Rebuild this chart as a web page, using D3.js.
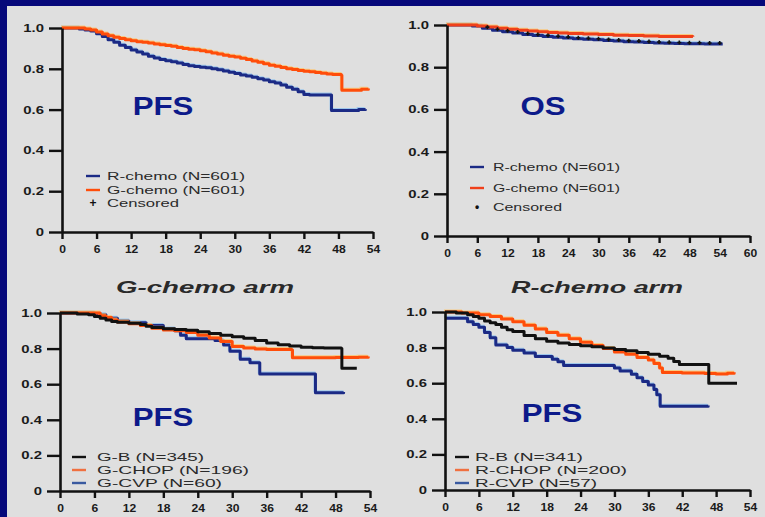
<!DOCTYPE html>
<html><head><meta charset="utf-8">
<script src="https://cdn.jsdelivr.net/npm/d3@7"></script>
<style>body{margin:0;background:#dfdfdf;overflow:hidden}</style>
</head><body>
<svg id="c" width="765" height="517"></svg>
<script>
// ---------- DATA ----------
const yTicks = [0, 0.2, 0.4, 0.6, 0.8, 1.0];
const yTickLabels = ["0", "0.2", "0.4", "0.6", "0.8", "1.0"];
const xTicks54 = [0, 6, 12, 18, 24, 30, 36, 42, 48, 54];
const xTicks60 = [0, 6, 12, 18, 24, 30, 36, 42, 48, 54, 60];

// Panel 1: PFS, R-chemo vs G-chemo
const pfsRchemo = [[0,1],[2,1],[3,0.995],[4,0.99],[5,0.985],[6,0.972],[7,0.958],[8,0.943],[9,0.93],[10,0.916],[11,0.904],[12,0.892],[13,0.882],[14,0.872],[15,0.862],[16,0.853],[17,0.845],[18,0.839],[19,0.834],[20,0.828],[21,0.821],[22,0.815],[23,0.811],[24,0.808],[25,0.805],[26,0.8],[27,0.795],[28,0.789],[29,0.783],[30,0.777],[31,0.77],[32,0.765],[33,0.758],[34,0.751],[35,0.745],[36,0.737],[37,0.73],[38,0.72],[39,0.71],[40,0.7],[41,0.688],[42,0.674],[43,0.671],[46.7,0.671],[46.8,0.595],[50,0.595],[51.5,0.6],[52.7,0.602]];
const pfsGchemo = [[0,1],[3,1],[4,0.995],[5,0.99],[6,0.98],[7,0.97],[8,0.962],[9,0.955],[10,0.948],[11,0.942],[12,0.937],[13,0.933],[14,0.93],[15,0.927],[16,0.922],[17,0.918],[18,0.914],[19,0.91],[20,0.905],[21,0.9],[22,0.896],[23,0.893],[24,0.889],[25,0.884],[26,0.878],[27,0.872],[28,0.867],[29,0.862],[30,0.858],[31,0.852],[32,0.845],[33,0.838],[34,0.832],[35,0.825],[36,0.818],[37,0.812],[38,0.806],[39,0.8],[40,0.797],[41,0.792],[42,0.788],[43,0.785],[44,0.782],[45,0.778],[46,0.775],[47,0.772],[48.5,0.768],[48.6,0.695],[51,0.695],[52,0.7],[53.2,0.703]];

// Panel 2: OS
const osRchemo = [[0,1],[3,1],[5,0.995],[7,0.985],[9,0.975],[11,0.968],[13,0.962],[15,0.955],[17,0.95],[19,0.946],[21,0.942],[23,0.938],[25,0.935],[27,0.932],[29,0.93],[31,0.927],[33,0.924],[35,0.921],[37,0.919],[39,0.917],[41,0.915],[43,0.913],[45,0.912],[47,0.911],[49,0.911],[51,0.91],[54.6,0.91]];
const osGchemo = [[0,1],[4,1],[6,0.995],[8,0.99],[10,0.985],[12,0.98],[14,0.975],[16,0.972],[18,0.968],[20,0.965],[22,0.962],[24,0.96],[27,0.957],[30,0.955],[33,0.952],[36,0.95],[39,0.948],[42,0.946],[45,0.945],[48.7,0.944]];
const osCensorR = [8,10,12,14,16,18,20,22,24,26,28,30,32,34,36,38,40,42,44,46,48,50,52,54];

// Panel 3: G-chemo arm PFS
const gB = [[0,1],[3,0.995],[5,0.99],[6,0.98],[7,0.97],[8,0.96],[9,0.952],[10,0.948],[12,0.942],[14,0.935],[15,0.925],[16,0.918],[18,0.912],[20,0.908],[22,0.903],[24,0.895],[26,0.885],[28,0.875],[30,0.866],[32,0.858],[34,0.846],[36,0.832],[38,0.822],[40,0.815],[42,0.808],[44,0.805],[46,0.803],[49,0.8],[49.1,0.69],[51.7,0.69]];
const gCHOP = [[0,1],[6,1],[7,0.985],[8,0.975],[9,0.96],[10,0.95],[12,0.94],[14,0.93],[16,0.915],[18,0.905],[20,0.9],[22,0.89],[24,0.875],[26,0.86],[28,0.84],[30,0.812],[32,0.803],[34,0.798],[36,0.795],[38,0.795],[40.4,0.792],[40.5,0.748],[44,0.748],[48,0.75],[52,0.752],[53.7,0.756]];
const gCVP = [[0,1],[6,0.99],[8,0.97],[10,0.955],[12,0.945],[15,0.93],[18,0.91],[20,0.9],[21,0.875],[22,0.855],[27,0.845],[28.5,0.82],[29.6,0.785],[31.4,0.74],[33.1,0.72],[34.8,0.658],[44.1,0.658],[44.5,0.552],[49.4,0.556]];

// Panel 4: R-chemo arm PFS
const rB = [[0,1],[2,0.995],[4,0.985],[5,0.975],[6,0.965],[7,0.95],[8,0.94],[9,0.93],[10,0.915],[11,0.9],[12,0.89],[14,0.868],[16,0.85],[18,0.835],[20,0.826],[22,0.818],[24,0.81],[26,0.805],[28,0.798],[30,0.79],[32,0.783],[34,0.773],[36,0.762],[38,0.752],[39.5,0.74],[40.5,0.722],[41.5,0.705],[46.6,0.705],[46.7,0.6],[51.7,0.6]];
const rCHOP = [[0,1],[3,0.995],[6,0.985],[8,0.975],[10,0.96],[12,0.945],[14,0.925],[16,0.905],[18,0.885],[20,0.87],[22,0.85],[24,0.83],[26,0.812],[28,0.795],[30,0.775],[32,0.762],[34,0.745],[36,0.73],[37,0.71],[38,0.685],[38.5,0.66],[42,0.658],[46,0.655],[48,0.652],[50,0.656],[51.2,0.662]];
const rCVP = [[0,0.965],[3,0.965],[4,0.945],[5,0.93],[6,0.915],[7,0.885],[8,0.855],[9,0.815],[11,0.8],[12,0.785],[14,0.77],[16,0.75],[19,0.735],[20,0.72],[21,0.7],[29,0.7],[30,0.685],[31,0.668],[33,0.65],[34,0.63],[35,0.61],[36,0.59],[37,0.565],[37.5,0.535],[38.1,0.47],[44,0.47],[46.6,0.475]];

const titles = ["G-chemo arm", "R-chemo arm"];

// ---------- STYLE ----------
const NAVY = "#1b2a85", ORANGE = "#ff4d0a", BLACK = "#111", LBLUE = "#8fc1ee", LYEL = "#ffc266";
const FONT = "'Liberation Sans', Arial, sans-serif";

const svg = d3.select("#c");
svg.append("rect").attr("width", 765).attr("height", 517).attr("fill", "#06087a");
svg.append("rect").attr("x", 7).attr("y", 6).attr("width", 758).attr("height", 511).attr("fill", "#dfdfdf");

function stretch(sel, k) {
  sel.each(function() {
    const L = this.getComputedTextLength();
    d3.select(this).attr("textLength", L * k).attr("lengthAdjust", "spacingAndGlyphs");
  });
}

const panels = [
  {x0:62, x1:373, yb:232, yt:28, xmax:54, xt:xTicks54,
   series:[{d:pfsRchemo,c:NAVY,h:LBLUE},{d:pfsGchemo,c:ORANGE,h:LYEL}],
   big:"PFS", bx:163, by:115,
   leg:{lx:86, tx:107, rows:[176,190,203], w:[138,138,72],
        items:[{t:"R-chemo (N=601)",c:NAVY},{t:"G-chemo (N=601)",c:ORANGE},{t:"Censored",m:"+"}]}},
  {x0:447, x1:750, yb:236, yt:25, xmax:60, xt:xTicks60,
   series:[{d:osRchemo,c:NAVY,h:LBLUE},{d:osGchemo,c:"#f0401a",h:LYEL}],
   censor:{t:osCensorR, d:osRchemo},
   big:"OS", bx:543, by:115,
   leg:{lx:470, tx:493, rows:[167,188,207], w:[127,127,69],
        items:[{t:"R-chemo (N=601)",c:NAVY},{t:"G-chemo (N=601)",c:"#f0401a"},{t:"Censored",m:"•"}]}},
  {x0:60, x1:370, yb:491, yt:313, xmax:54, xt:xTicks54,
   series:[{d:gCVP,c:NAVY,h:LBLUE},{d:gCHOP,c:ORANGE,h:LYEL},{d:gB,c:BLACK}],
   big:"PFS", bx:163, by:426, title:titles[0], tx:205, ty:293, tw:178,
   leg:{lx:72, tx:97, rows:[457,470,483], w:[107,152,125],
        items:[{t:"G-B (N=345)",c:BLACK},{t:"G-CHOP (N=196)",c:"#f07040"},{t:"G-CVP (N=60)",c:"#3a5aa0"}]}},
  {x0:445, x1:750, yb:490, yt:312, xmax:54, xt:xTicks54,
   series:[{d:rCVP,c:NAVY,h:LBLUE},{d:rCHOP,c:ORANGE,h:LYEL},{d:rB,c:BLACK}],
   big:"PFS", bx:552, by:422, title:titles[1], tx:597, ty:293, tw:172,
   leg:{lx:455, tx:475, rows:[457,470,483], w:[108,152,122],
        items:[{t:"R-B (N=341)",c:BLACK},{t:"R-CHOP (N=200)",c:"#f07040"},{t:"R-CVP (N=57)",c:"#3a5aa0"}]}}
];

panels.forEach(p => {
  const x = d3.scaleLinear().domain([0, p.xmax]).range([p.x0, p.x1]);
  const y = d3.scaleLinear().domain([0, 1]).range([p.yb, p.yt]);
  const g = svg.append("g");

  // curves
  const line = d3.line().x(d => x(d[0])).y(d => y(d[1])).curve(d3.curveStepAfter);
  p.series.forEach(s => {
    if (s.h) g.append("path").attr("d", line(s.d)).attr("fill", "none")
      .attr("stroke", s.h).attr("stroke-width", 2).attr("opacity", 0.8)
      .attr("transform", "translate(-1,-1.5)");
    g.append("path").attr("d", line(s.d)).attr("fill", "none")
      .attr("stroke", s.c).attr("stroke-width", 3).attr("stroke-linejoin", "round");
  });

  // censor marks
  if (p.censor) {
    const lookup = t => { let v = p.censor.d[0][1]; p.censor.d.forEach(d => { if (d[0] <= t) v = d[1]; }); return v; };
    g.selectAll(".cm").data(p.censor.t).join("path")
      .attr("d", t => `M${x(t)-2},${y(lookup(t))-1}h4M${x(t)},${y(lookup(t))-3}v4`)
      .attr("stroke", "#111").attr("stroke-width", 1.6).attr("fill", "none");
  }

  // axes
  const ya = g.append("g").attr("transform", `translate(${p.x0},0)`)
    .call(d3.axisLeft(y).tickValues(yTicks).tickFormat((d, i) => yTickLabels[i]).tickSize(13).tickSizeOuter(0).tickPadding(5));
  const xa = g.append("g").attr("transform", `translate(0,${p.yb})`)
    .call(d3.axisBottom(x).tickValues(p.xt).tickSize(7).tickSizeOuter(0).tickPadding(6));
  [ya, xa].forEach(a => {
    a.select(".domain").attr("stroke", "#111").attr("stroke-width", 2.6);
    a.selectAll(".tick line").attr("stroke", "#111").attr("stroke-width", 2.4);
    a.selectAll(".tick text").attr("fill", "#1a1a1a").style("font-family", FONT)
      .style("font-size", "11px").style("font-weight", "bold");
  });
  stretch(ya.selectAll(".tick text"), 1.35);
  stretch(xa.selectAll(".tick text"), 1.1);

  // big label
  const bt = g.append("text").attr("x", p.bx).attr("y", p.by).attr("text-anchor", "middle")
    .attr("fill", "#0c1a8a").style("font-family", FONT).style("font-size", "26px").style("font-weight", "bold").text(p.big);
  stretch(bt, 1.2);

  // title
  if (p.title) {
    g.append("text").attr("x", p.tx).attr("y", p.ty).attr("text-anchor", "middle")
      .attr("fill", "#2a2a2a").style("font-family", FONT).style("font-size", "17px")
      .style("font-style", "italic").style("font-weight", "bold")
      .attr("textLength", p.tw).attr("lengthAdjust", "spacingAndGlyphs").text(p.title);
  }

  // legend
  p.leg.items.forEach((it, i) => {
    const ry = p.leg.rows[i];
    if (it.c) g.append("line").attr("x1", p.leg.lx).attr("x2", p.leg.lx + 14).attr("y1", ry).attr("y2", ry)
      .attr("stroke", it.c).attr("stroke-width", 2.4);
    if (it.m) g.append("text").attr("x", p.leg.lx + 7).attr("y", ry + 4).attr("text-anchor", "middle")
      .attr("fill", "#111").style("font-family", FONT).style("font-size", "12px").style("font-weight", "bold").text(it.m);
    g.append("text").attr("x", p.leg.tx).attr("y", ry + 4).attr("fill", "#2a2a2a")
      .style("font-family", FONT).style("font-size", "11px")
      .attr("textLength", p.leg.w[i]).attr("lengthAdjust", "spacingAndGlyphs").text(it.t);
  });
});
</script>
</body></html>
